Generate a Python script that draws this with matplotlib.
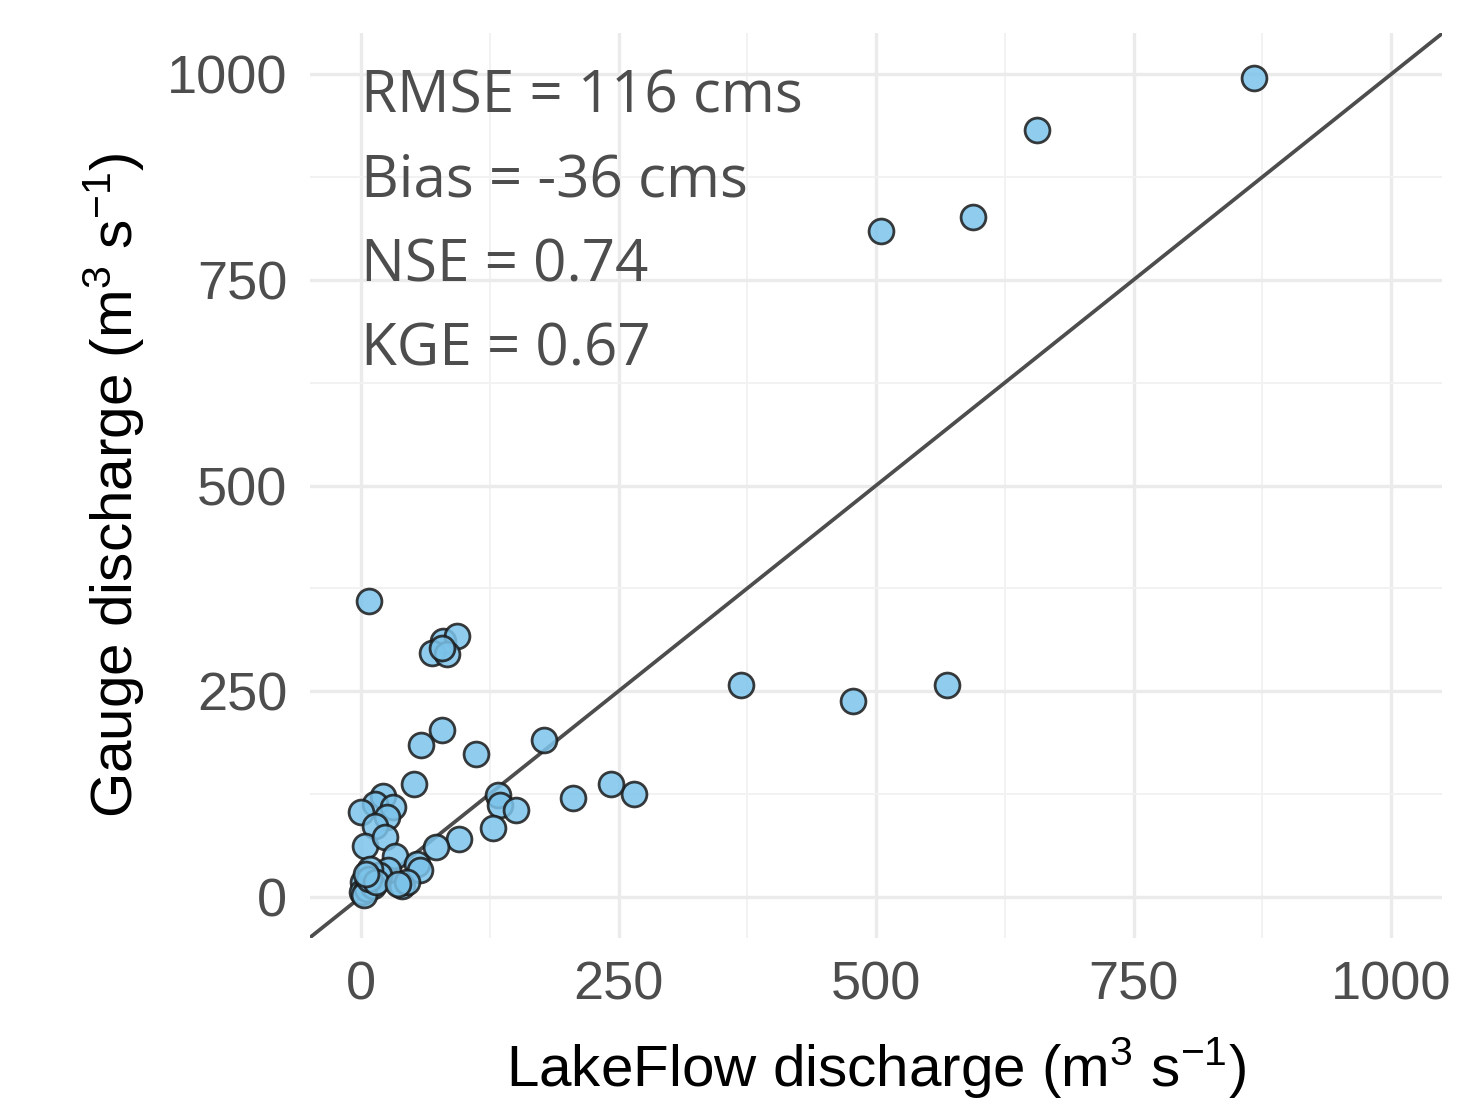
import matplotlib
matplotlib.use("Agg")
import matplotlib.pyplot as plt
from matplotlib.ticker import MultipleLocator

# data
lakeflow = [867, 656, 594, 505, 369, 478, 569, 265, 243, 206, 178, 112, 79, 58, 51,
            8, 80, 93, 69, 83, 79, 133, 135, 150, 128, 95, 73, 21, 14, 31, 0, 25,
            14, 4, 23, 33, 54, 57, 40, 26, 17, 2, 1, 6, 12, 45, 9, 3, 8, 15, 36, 5]
gauge = [996, 932, 827, 809, 258, 238, 258, 125, 137, 120, 191, 174, 203, 185, 137,
         360, 311, 317, 296, 295, 302, 124, 112, 105, 84, 70, 61, 122, 113, 109, 103, 97,
         86, 62, 73, 49, 40, 32, 13, 32, 26, 18, 6, 10, 13, 18, 34, 2, 22, 18, 15, 28]
stats = ["RMSE = 116 cms", "Bias = -36 cms", "NSE = 0.74", "KGE = 0.67"]
ticks = [0, 250, 500, 750, 1000]

plt.rcParams["font.family"] = ["Liberation Sans", "DejaVu Sans"]
plt.rcParams["mathtext.fontset"] = "custom"
plt.rcParams["mathtext.rm"] = "Liberation Sans"
plt.rcParams["mathtext.it"] = "Liberation Sans"

fig = plt.figure(figsize=(14.81, 11.06), dpi=100)
ax = fig.add_axes([0.209, 0.152, 0.765, 0.818])

ax.set_xlim(-50, 1050)
ax.set_ylim(-50, 1050)
ax.set_xticks(ticks)
ax.set_yticks(ticks)
ax.xaxis.set_minor_locator(MultipleLocator(125))
ax.yaxis.set_minor_locator(MultipleLocator(125))
ax.grid(which="major", color="#ebebeb", linewidth=2.4)
ax.grid(which="minor", color="#f2f2f2", linewidth=1.4)
ax.set_axisbelow(True)
for s in ax.spines.values():
    s.set_visible(False)
ax.tick_params(which="both", length=0, labelsize=39, labelcolor="#4d4d4d", pad=16)

# 1:1 line
ax.axline((0, 0), slope=1, color="#4d4d4d", linewidth=2.7, zorder=2)

ax.scatter(lakeflow, gauge, s=320, c="#7cc3ea", alpha=0.85, edgecolors="#1a1a1a",
           linewidths=2.0, zorder=3)

for i, t in enumerate(stats):
    ax.text(0, 972 - i * 102.5, t, fontsize=42, color="#4d4d4d", va="center", ha="left",
            family=["Open Sans", "DejaVu Sans"])

ax.set_xlabel(r"LakeFlow discharge (m$^3$ s$^{-1}$)", fontsize=42, labelpad=18)
ax.set_ylabel(r"Gauge discharge (m$^3$ s$^{-1}$)", fontsize=42, labelpad=14)

fig.savefig("out.png", dpi=100, facecolor="white")
